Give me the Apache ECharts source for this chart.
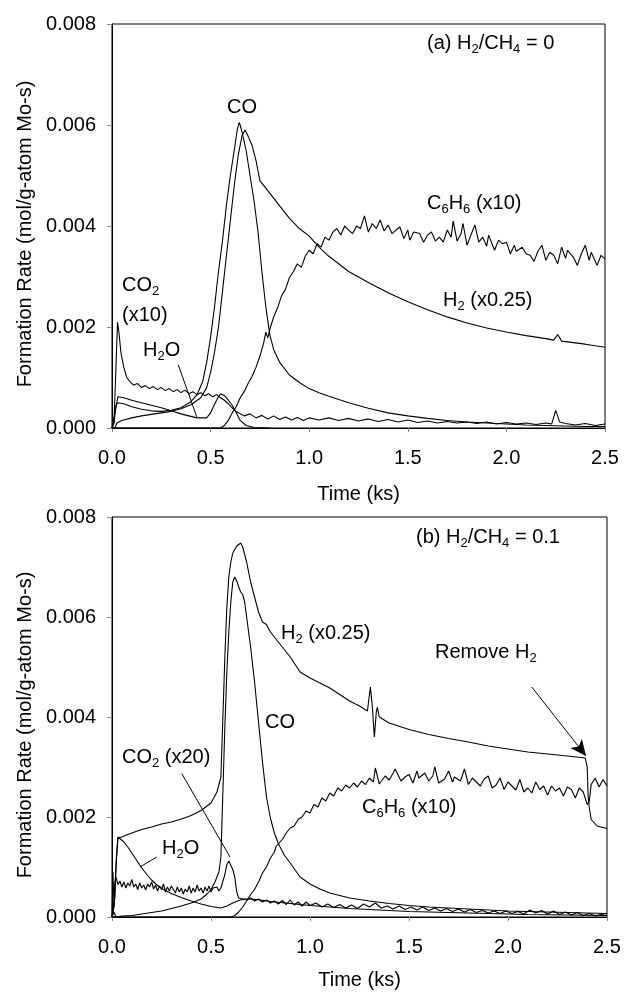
<!DOCTYPE html>
<html>
<head>
<meta charset="utf-8">
<script src="https://cdn.jsdelivr.net/npm/echarts@6/dist/echarts.min.js"></script>
<style>
  html, body { margin: 0; padding: 0; background: #fff; }
  #chart { width: 624px; height: 992px; }
</style>
</head>
<body>
<div id="chart"></div>
<script>
  const FONT = '"Liberation Sans", Arial, sans-serif'

  // axis ticks
  const xTicks = [0, 0.5, 1.0, 1.5, 2.0, 2.5]
  const yTicks = [0, 0.002, 0.004, 0.006, 0.008]

  // ---- panel (a) H2/CH4 = 0 ----  [time (ks), rate]
  const a_CO = [[0,0],[0.01,0.0001],[0.02,0.00045],[0.03,0.0005],[0.06,0.00048],[0.1,0.00042],[0.15,0.00037],[0.2,0.00034],[0.25,0.00033],[0.3,0.00035],[0.35,0.0004],[0.4,0.00052],[0.43,0.00065],[0.46,0.00092],[0.48,0.0013],[0.5,0.0018],[0.52,0.0024],[0.54,0.0031],[0.56,0.0037],[0.58,0.0044],[0.6,0.005],[0.62,0.0055],[0.635,0.0059],[0.645,0.00605],[0.65,0.006],[0.66,0.00585],[0.68,0.0055],[0.7,0.005],[0.72,0.0045],[0.74,0.0039],[0.76,0.0031],[0.78,0.0024],[0.8,0.00185],[0.82,0.00155],[0.85,0.0013],[0.9,0.00105],[0.95,0.0009],[1.0,0.00078],[1.05,0.0007],[1.1,0.00063],[1.2,0.0005],[1.3,0.00039],[1.4,0.0003],[1.5,0.00024],[1.6,0.00019],[1.7,0.00015],[1.8,0.00012],[1.9,0.0001],[2.0,0.00008],[2.1,0.00006],[2.2,0.00005],[2.3,0.00004],[2.4,0.00003],[2.5,0.00003]]

  const a_H2 = [[0,0],[0.015,0],[0.025,0.0001],[0.05,0.00015],[0.1,0.0002],[0.15,0.00024],[0.2,0.00027],[0.25,0.0003],[0.3,0.00033],[0.35,0.00038],[0.4,0.00046],[0.45,0.0006],[0.48,0.0008],[0.5,0.0011],[0.52,0.0015],[0.54,0.002],[0.56,0.0027],[0.58,0.0034],[0.6,0.0041],[0.62,0.0048],[0.64,0.0054],[0.66,0.0058],[0.675,0.0059],[0.69,0.00578],[0.71,0.0056],[0.73,0.0053],[0.75,0.0049],[0.76,0.00485],[0.78,0.00475],[0.8,0.00465],[0.85,0.0044],[0.9,0.00415],[0.95,0.00395],[1.0,0.0038],[1.05,0.00358],[1.1,0.0034],[1.2,0.0031],[1.3,0.00288],[1.4,0.00268],[1.5,0.0025],[1.6,0.00234],[1.7,0.0022],[1.8,0.00208],[1.9,0.00198],[2.0,0.0019],[2.1,0.00183],[2.2,0.00177],[2.24,0.00174],[2.26,0.00185],[2.28,0.00172],[2.3,0.00171],[2.4,0.00166],[2.5,0.0016]]

  const a_C6H6 = [[0,0],[0.55,0],[0.57,0.00005],[0.59,0.00015],[0.61,0.0003],[0.63,0.00042],[0.65,0.0006],[0.67,0.00072],[0.69,0.00088],[0.71,0.00102],[0.73,0.0012],[0.75,0.00142],[0.77,0.0017],[0.78,0.0019],[0.79,0.00178],[0.8,0.00195],[0.82,0.0022],[0.84,0.00238],[0.86,0.00262],[0.88,0.00275],[0.9,0.00298],[0.92,0.0031],[0.94,0.00325],[0.96,0.00318],[0.98,0.0034],[1.0,0.00352],[1.02,0.00345],[1.04,0.00365],[1.06,0.00358],[1.08,0.00378],[1.1,0.00372],[1.12,0.00388],[1.14,0.00395],[1.16,0.00382],[1.18,0.004],[1.2,0.00392],[1.22,0.00385],[1.24,0.004],[1.26,0.00395],[1.28,0.0042],[1.3,0.00388],[1.32,0.00405],[1.34,0.00395],[1.36,0.00412],[1.38,0.0039],[1.4,0.00402],[1.42,0.00385],[1.44,0.00392],[1.46,0.00398],[1.48,0.00375],[1.5,0.00392],[1.51,0.00372],[1.53,0.00388],[1.56,0.00385],[1.58,0.00368],[1.6,0.00382],[1.62,0.00388],[1.64,0.0037],[1.66,0.00378],[1.68,0.00368],[1.7,0.00392],[1.72,0.00378],[1.73,0.0041],[1.75,0.0037],[1.77,0.00385],[1.78,0.00405],[1.8,0.00362],[1.82,0.00382],[1.84,0.00402],[1.86,0.00368],[1.88,0.00378],[1.9,0.0036],[1.91,0.00382],[1.94,0.00352],[1.96,0.00372],[1.98,0.00365],[2.0,0.00368],[2.02,0.00345],[2.04,0.00362],[2.05,0.0035],[2.08,0.00358],[2.1,0.00345],[2.12,0.00342],[2.14,0.0033],[2.16,0.0035],[2.18,0.00362],[2.2,0.00332],[2.22,0.00348],[2.24,0.00342],[2.26,0.00325],[2.28,0.00358],[2.3,0.00336],[2.31,0.00352],[2.34,0.00338],[2.36,0.00322],[2.38,0.00345],[2.4,0.00362],[2.42,0.00332],[2.43,0.00348],[2.46,0.00322],[2.48,0.00342],[2.5,0.00335]]

  const a_CO2 = [[0,0],[0.01,0.0001],[0.02,0.0012],[0.028,0.0021],[0.035,0.0019],[0.045,0.0015],[0.06,0.0012],[0.075,0.001],[0.09,0.00092],[0.11,0.00085],[0.13,0.00088],[0.15,0.0008],[0.17,0.00084],[0.19,0.00078],[0.21,0.00082],[0.23,0.00076],[0.25,0.0008],[0.27,0.00074],[0.29,0.00078],[0.31,0.00072],[0.33,0.00076],[0.35,0.0007],[0.37,0.00075],[0.39,0.00068],[0.41,0.00072],[0.43,0.00066],[0.45,0.0007],[0.47,0.00064],[0.49,0.00068],[0.51,0.00062],[0.53,0.00066],[0.55,0.0006],[0.57,0.00055],[0.59,0.00048],[0.61,0.0004],[0.63,0.00032],[0.65,0.00028],[0.67,0.00024],[0.7,0.00028],[0.73,0.0002],[0.76,0.00025],[0.79,0.00018],[0.82,0.00024],[0.85,0.00017],[0.88,0.00022],[0.91,0.00016],[0.94,0.00021],[0.97,0.00015],[1.0,0.0002],[1.05,0.00016],[1.1,0.0002],[1.15,0.00015],[1.2,0.00019],[1.25,0.00014],[1.3,0.00018],[1.35,0.00013],[1.4,0.00017],[1.45,0.00012],[1.5,0.00016],[1.55,0.00011],[1.6,0.00014],[1.65,0.0001],[1.7,0.00013],[1.75,0.0001],[1.8,0.00012],[1.85,0.00009],[1.9,0.00012],[1.95,0.00008],[2.0,0.00011],[2.05,0.00008],[2.1,0.0001],[2.15,0.00007],[2.2,0.0001],[2.23,0.00008],[2.25,0.00035],[2.27,0.00012],[2.3,0.00009],[2.35,0.00006],[2.4,0.00009],[2.45,0.00005],[2.5,0.00008]]

  const a_H2O = [[0,0],[0.015,0.0003],[0.03,0.00062],[0.06,0.0006],[0.1,0.00055],[0.15,0.0005],[0.2,0.00045],[0.25,0.0004],[0.3,0.00034],[0.35,0.00028],[0.4,0.00023],[0.43,0.0002],[0.48,0.0002],[0.5,0.0003],[0.53,0.00055],[0.55,0.00068],[0.57,0.00064],[0.59,0.00055],[0.61,0.00045],[0.63,0.0003],[0.65,0.00015],[0.68,0.00005],[0.72,0.00001],[0.8,0]]

  // ---- panel (b) H2/CH4 = 0.1 ----
  const b_H2 = [[0,0],[0.01,0.0002],[0.02,0.001],[0.03,0.00158],[0.05,0.0016],[0.08,0.00165],[0.1,0.00168],[0.15,0.00175],[0.2,0.0018],[0.25,0.00186],[0.3,0.0019],[0.35,0.00196],[0.4,0.00203],[0.45,0.00213],[0.5,0.00228],[0.53,0.0025],[0.55,0.0028],[0.56,0.004],[0.57,0.0052],[0.58,0.0062],[0.59,0.0068],[0.6,0.0071],[0.61,0.00728],[0.62,0.00735],[0.63,0.00742],[0.64,0.00738],[0.65,0.00748],[0.66,0.0074],[0.67,0.00725],[0.68,0.0071],[0.69,0.0069],[0.7,0.0067],[0.72,0.0064],[0.74,0.0061],[0.76,0.0059],[0.78,0.00585],[0.8,0.0057],[0.83,0.00555],[0.86,0.0054],[0.9,0.0052],[0.95,0.0049],[1.0,0.00478],[1.05,0.00468],[1.1,0.00458],[1.15,0.00445],[1.2,0.00432],[1.25,0.00422],[1.29,0.00412],[1.305,0.0046],[1.315,0.0042],[1.325,0.0036],[1.335,0.0041],[1.34,0.0042],[1.35,0.004],[1.4,0.00388],[1.5,0.00375],[1.6,0.00365],[1.7,0.00357],[1.8,0.0035],[1.9,0.00342],[2.0,0.00336],[2.1,0.0033],[2.2,0.00326],[2.3,0.00322],[2.39,0.00318],[2.4,0.003],[2.405,0.0024],[2.41,0.0022],[2.42,0.00195],[2.45,0.00182],[2.5,0.00177]]

  const b_CO = [[0,0],[0.01,0.0001],[0.02,0],[0.05,0.00002],[0.1,0.00003],[0.15,0.00006],[0.2,0.00009],[0.25,0.00012],[0.3,0.00017],[0.35,0.00022],[0.4,0.00028],[0.45,0.00036],[0.48,0.00046],[0.5,0.00055],[0.52,0.0007],[0.54,0.0009],[0.55,0.0012],[0.56,0.0025],[0.57,0.0038],[0.58,0.0049],[0.59,0.0057],[0.6,0.0063],[0.61,0.0067],[0.62,0.0068],[0.63,0.00672],[0.64,0.0066],[0.65,0.0065],[0.66,0.00645],[0.67,0.0063],[0.68,0.006],[0.69,0.0057],[0.7,0.0054],[0.72,0.0047],[0.74,0.0039],[0.76,0.0031],[0.78,0.0024],[0.8,0.00198],[0.82,0.00168],[0.84,0.00147],[0.87,0.00124],[0.9,0.00108],[0.95,0.0008],[1.0,0.00066],[1.05,0.00056],[1.1,0.00048],[1.2,0.00038],[1.3,0.00032],[1.4,0.00027],[1.5,0.00023],[1.6,0.0002],[1.7,0.00018],[1.8,0.00016],[1.9,0.00014],[2.0,0.00012],[2.1,0.00011],[2.2,0.0001],[2.3,0.00009],[2.4,0.00008],[2.5,0.00007]]

  const b_C6H6 = [[0,0],[0.6,0],[0.62,0.00003],[0.64,0.0001],[0.66,0.0002],[0.68,0.00032],[0.7,0.00045],[0.72,0.00055],[0.74,0.0007],[0.76,0.00088],[0.78,0.001],[0.8,0.00118],[0.82,0.0013],[0.83,0.00142],[0.84,0.00138],[0.86,0.00155],[0.88,0.00168],[0.9,0.00178],[0.92,0.00182],[0.94,0.00195],[0.96,0.002],[0.98,0.00212],[1.0,0.00208],[1.02,0.00225],[1.04,0.0022],[1.06,0.00238],[1.08,0.00232],[1.1,0.00248],[1.12,0.00242],[1.14,0.00258],[1.16,0.00252],[1.18,0.00264],[1.2,0.00258],[1.22,0.00268],[1.24,0.0026],[1.26,0.00272],[1.28,0.00265],[1.3,0.00278],[1.32,0.0027],[1.33,0.00298],[1.35,0.00266],[1.38,0.00282],[1.4,0.00274],[1.42,0.00288],[1.43,0.00296],[1.46,0.00272],[1.48,0.0028],[1.5,0.00285],[1.52,0.00268],[1.54,0.00292],[1.55,0.00278],[1.58,0.00288],[1.6,0.00272],[1.62,0.00282],[1.63,0.003],[1.65,0.00268],[1.68,0.00276],[1.7,0.00292],[1.72,0.0027],[1.73,0.0028],[1.76,0.00272],[1.78,0.00296],[1.8,0.00265],[1.82,0.00278],[1.84,0.0027],[1.86,0.00262],[1.88,0.00276],[1.9,0.00282],[1.92,0.00258],[1.94,0.00264],[1.96,0.00278],[1.98,0.00255],[2.0,0.0027],[2.02,0.00262],[2.04,0.00254],[2.06,0.00275],[2.08,0.0025],[2.1,0.00258],[2.12,0.00248],[2.14,0.0027],[2.16,0.00255],[2.18,0.00262],[2.2,0.00244],[2.22,0.00262],[2.24,0.00252],[2.26,0.00258],[2.28,0.00242],[2.3,0.0026],[2.32,0.00255],[2.34,0.00238],[2.36,0.00258],[2.38,0.0025],[2.4,0.00225],[2.41,0.0023],[2.42,0.00265],[2.44,0.00278],[2.46,0.0026],[2.48,0.00275],[2.5,0.00262]]

  const b_CO2 = [[0,0],[0.005,0.0009],[0.01,0.0002],[0.015,0.0007],[0.02,0.0008],[0.03,0.00065],[0.04,0.00072],[0.05,0.0006],[0.06,0.0007],[0.07,0.00058],[0.08,0.00068],[0.09,0.00062],[0.1,0.00075],[0.11,0.0006],[0.12,0.00066],[0.13,0.00055],[0.14,0.00068],[0.15,0.00058],[0.16,0.00064],[0.17,0.00054],[0.18,0.00066],[0.19,0.0006],[0.2,0.0007],[0.21,0.00056],[0.22,0.00064],[0.23,0.00052],[0.24,0.00062],[0.25,0.00055],[0.26,0.00066],[0.27,0.0005],[0.28,0.0006],[0.29,0.00052],[0.3,0.00062],[0.31,0.00055],[0.32,0.00048],[0.33,0.0006],[0.34,0.0005],[0.35,0.00058],[0.36,0.00046],[0.37,0.00056],[0.38,0.0005],[0.39,0.00062],[0.4,0.00048],[0.41,0.00058],[0.42,0.0005],[0.43,0.00064],[0.44,0.00052],[0.45,0.00058],[0.46,0.00048],[0.47,0.0006],[0.48,0.00052],[0.49,0.00062],[0.5,0.0005],[0.51,0.00058],[0.52,0.00054],[0.53,0.0006],[0.54,0.00052],[0.55,0.00058],[0.56,0.0006],[0.57,0.00085],[0.58,0.00105],[0.59,0.00112],[0.6,0.00108],[0.61,0.00095],[0.62,0.0008],[0.63,0.0005],[0.64,0.00038],[0.65,0.0004],[0.66,0.00036],[0.67,0.0004],[0.68,0.00034],[0.7,0.00038],[0.72,0.00032],[0.74,0.00036],[0.76,0.0003],[0.78,0.00034],[0.8,0.00028],[0.82,0.00032],[0.84,0.00026],[0.86,0.00033],[0.88,0.00025],[0.9,0.00034],[0.92,0.00024],[0.94,0.0003],[0.96,0.00022],[0.98,0.0003],[1.0,0.00023],[1.03,0.00028],[1.06,0.0002],[1.09,0.00026],[1.12,0.00019],[1.15,0.00025],[1.18,0.00018],[1.21,0.00024],[1.24,0.00017],[1.27,0.00026],[1.3,0.0002],[1.33,0.00028],[1.36,0.00018],[1.39,0.00022],[1.42,0.00016],[1.45,0.00022],[1.48,0.00015],[1.51,0.0002],[1.54,0.00014],[1.57,0.0002],[1.6,0.00013],[1.63,0.00018],[1.66,0.00012],[1.69,0.00017],[1.72,0.00011],[1.75,0.00016],[1.78,0.0001],[1.81,0.00015],[1.84,0.00009],[1.87,0.00013],[1.9,0.00008],[1.93,0.00012],[1.96,0.00007],[1.99,0.00012],[2.02,0.00007],[2.05,0.00011],[2.08,0.00006],[2.11,0.00014],[2.14,0.00008],[2.17,0.00013],[2.2,0.00006],[2.23,0.00012],[2.26,0.00005],[2.29,0.0001],[2.32,0.00004],[2.35,0.00009],[2.38,0.00003],[2.41,0.00007],[2.44,0.00002],[2.47,0.00005],[2.5,0.00003]]

  const b_H2O = [[0,0],[0.015,0.0004],[0.022,0.0012],[0.03,0.0016],[0.04,0.00158],[0.06,0.0015],[0.08,0.0014],[0.1,0.00128],[0.12,0.00116],[0.14,0.00104],[0.16,0.00093],[0.18,0.00083],[0.2,0.00074],[0.23,0.00063],[0.26,0.00055],[0.3,0.00047],[0.35,0.00039],[0.4,0.00032],[0.45,0.00026],[0.5,0.00021],[0.55,0.00018],[0.58,0.00022],[0.61,0.00028],[0.64,0.00033],[0.67,0.00036],[0.7,0.00036],[0.75,0.00034],[0.8,0.00031],[0.9,0.00027],[1.0,0.00023],[1.1,0.0002],[1.2,0.00017],[1.3,0.00015],[1.4,0.00013],[1.5,0.00011],[1.7,0.00009],[1.9,0.00007],[2.1,0.00005],[2.3,0.00004],[2.5,0.00003]]

  // leader lines and the arrow, in data units
  const a_H2O_leader = [[0.336, 0.00125], [0.43, 0.00022]]
  const b_CO2_leader = [[0.352, 0.00287], [0.596, 0.0012]]
  const b_H2O_leader = [[0.226, 0.0012], [0.141, 0.001]]
  const b_remove_arrow = [[2.12, 0.0046], [2.394, 0.00322]]

  const chart = echarts.init(document.getElementById('chart'))

  const xAxisBase = (gi, gap) => ({
    type: 'value', gridIndex: gi, min: 0, max: 2.5, interval: 0.5,
    name: 'Time (ks)', nameLocation: 'middle', nameGap: gap,
    nameTextStyle: { color: '#000', fontSize: 20, fontFamily: FONT },
    axisLine: { lineStyle: { color: '#000', width: 1 } },
    axisTick: { show: true, length: 4, lineStyle: { color: '#888' } },
    axisLabel: { color: '#000', fontSize: 20, fontFamily: FONT, margin: 20, formatter: v => v.toFixed(1) },
    splitLine: { show: false }
  })
  const yAxisBase = (gi) => ({
    type: 'value', gridIndex: gi, min: 0, max: 0.008, interval: 0.002,
    name: 'Formation Rate (mol/g-atom Mo-s)', nameLocation: 'middle', nameGap: 76,
    nameTextStyle: { color: '#000', fontSize: 20, fontFamily: FONT, padding: [0, 16, 0, 0] },
    axisLine: { show: true, lineStyle: { color: '#000', width: 1 } },
    axisTick: { show: true, length: 5, lineStyle: { color: '#888' } },
    axisLabel: { color: '#000', fontSize: 20, fontFamily: FONT, margin: 16, formatter: v => v.toFixed(3) },
    splitLine: { show: false }
  })

  const line = (data, gi, extra) => Object.assign({
    type: 'line', data: data, xAxisIndex: gi, yAxisIndex: gi,
    showSymbol: false, symbol: 'none', silent: true, animation: false,
    lineStyle: { color: '#000', width: 1.1 }
  }, extra || {})

  const leader = (pts, arrow) => ({
    silent: true, animation: false,
    symbol: arrow ? ['none', 'arrow'] : ['none', 'none'],
    symbolSize: arrow ? [11, 16] : 0,
    label: { show: false },
    lineStyle: { color: '#000', width: 1, type: 'solid' },
    itemStyle: { color: '#000' },
    data: [[{ coord: pts[0] }, { coord: pts[1] }]]
  })

  const rich = {
    s: { fontSize: 13, fontFamily: FONT, fill: '#000', verticalAlign: 'bottom', lineHeight: 14 }
  }
  const txt = (x, y, text) => ({
    type: 'text', left: x, top: y, silent: true,
    style: { text: text, fill: '#000', fontSize: 20, fontFamily: FONT, lineHeight: 26, rich: rich }
  })

  chart.setOption({
    backgroundColor: '#fff',
    animation: false,
    grid: [
      { left: 112, top: 24, width: 493, height: 404, show: true, borderColor: '#000', borderWidth: 1 },
      { left: 112, top: 517, width: 495, height: 400, show: true, borderColor: '#000', borderWidth: 1 }
    ],
    xAxis: [xAxisBase(0, 56), xAxisBase(1, 53)],
    yAxis: [yAxisBase(0), yAxisBase(1)],
    series: [
      line(a_CO, 0),
      line(a_H2, 0),
      line(a_C6H6, 0),
      line(a_CO2, 0),
      line(a_H2O, 0, { markLine: leader(a_H2O_leader) }),
      line(b_H2, 1, { markLine: leader(b_remove_arrow, true) }),
      line(b_CO, 1),
      line(b_C6H6, 1),
      line(b_CO2, 1, { markLine: leader(b_CO2_leader) }),
      line(b_H2O, 1, { markLine: leader(b_H2O_leader) })
    ],
    graphic: [
      txt(427, 30, '(a) H{s|2}/CH{s|4} = 0'),
      txt(227, 94, 'CO'),
      txt(427, 190, 'C{s|6}H{s|6} (x10)'),
      txt(443, 287, 'H{s|2} (x0.25)'),
      txt(122, 272, 'CO{s|2}'),
      txt(122, 302, '(x10)'),
      txt(143, 337, 'H{s|2}O'),
      txt(416, 524, '(b) H{s|2}/CH{s|4} = 0.1'),
      txt(281, 620, 'H{s|2} (x0.25)'),
      txt(265, 709, 'CO'),
      txt(122, 744, 'CO{s|2} (x20)'),
      txt(162, 835, 'H{s|2}O'),
      txt(362, 794, 'C{s|6}H{s|6} (x10)'),
      txt(435, 639, 'Remove H{s|2}')
    ]
  })
</script>
</body>
</html>
